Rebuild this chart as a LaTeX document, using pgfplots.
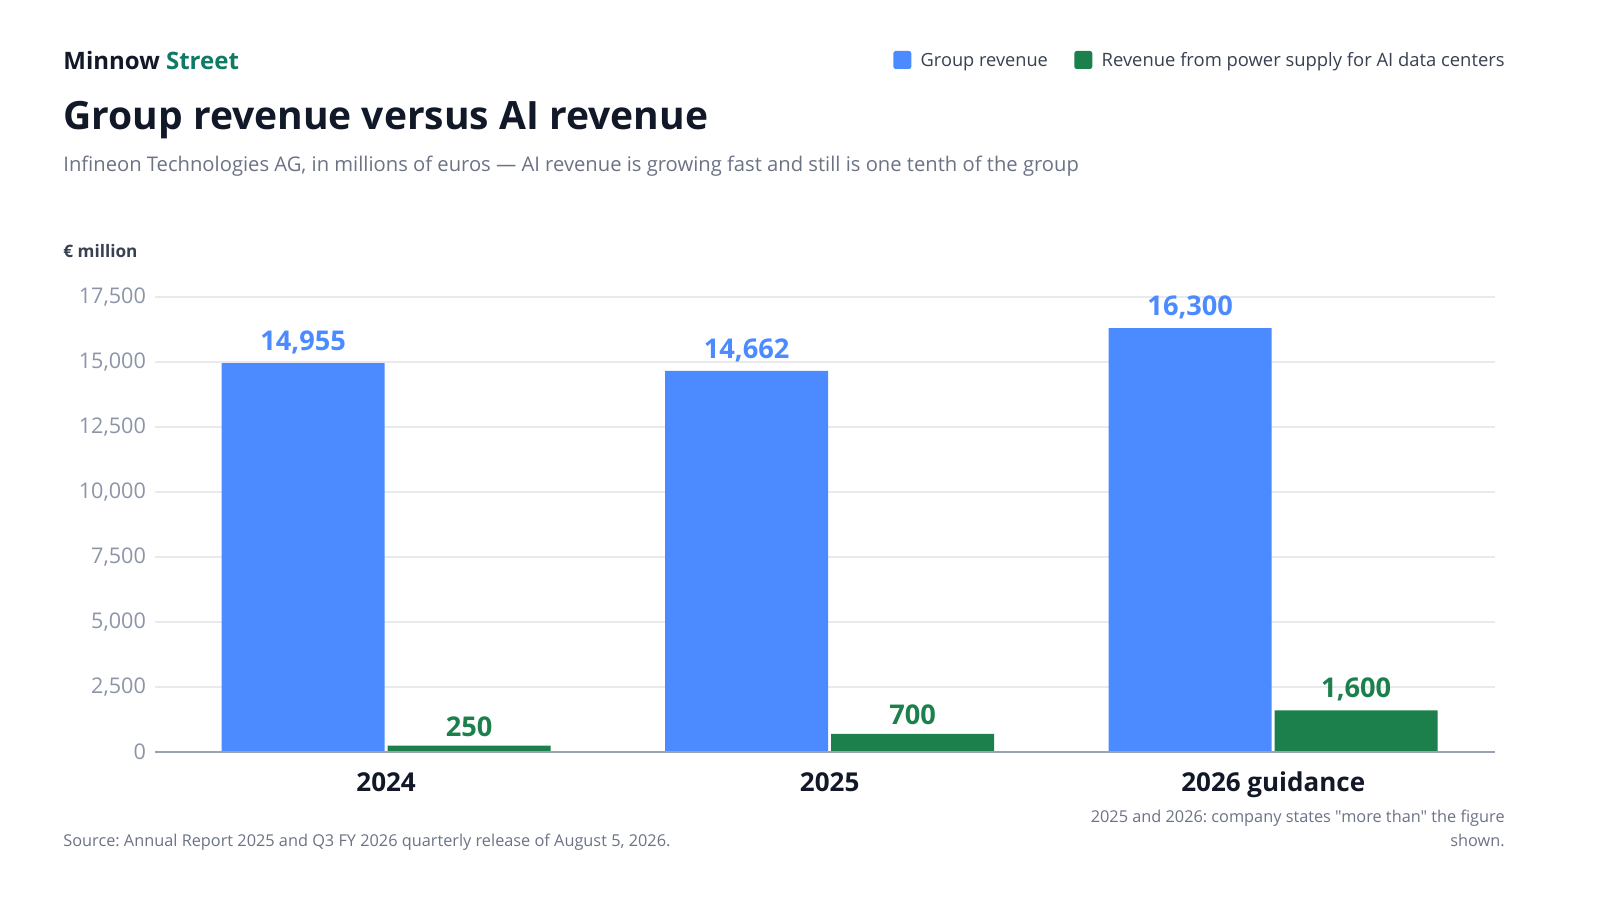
\documentclass[border=0pt]{standalone}
\usepackage{fontspec}
\setmainfont{Open Sans}
\newfontfamily\plainopen{Open Sans}
\usepackage{pgfplots}
\pgfplotsset{compat=1.18}
\definecolor{blueb}{HTML}{4B8BFF}
\definecolor{greenb}{HTML}{1B804C}
\definecolor{teal}{HTML}{0F7A66}
\definecolor{darkt}{HTML}{111827}
\definecolor{subt}{HTML}{6B7385}
\definecolor{tickc}{HTML}{8C95A8}
\definecolor{gridc}{HTML}{E8EAEE}
\definecolor{axisc}{HTML}{9AA2B2}
\definecolor{legt}{HTML}{374151}
\pgfplotstableread{
x group ai
0 14955 250
1 14662 700
2 16300 1600
}\revtable
\frenchspacing
\begin{document}
\begin{tikzpicture}[x=1pt,y=1pt]
\fill[white] (0,0) rectangle (800,450);
\node[anchor=base west, inner sep=0, font=\fontsize{12}{14}\selectfont\bfseries, text=darkt] at (31.5,415) {Minnow \textcolor{teal}{Street}};
\node[anchor=base west, inner sep=0, font=\fontsize{19.5}{24}\selectfont\bfseries, text=darkt] at (31.5,385) {Group revenue versus AI revenue};
\node[anchor=base west, inner sep=0, font=\fontsize{10.1}{12}\selectfont, text=subt] at (31.5,364) {Infineon Technologies AG, in millions of euros — AI revenue is growing fast and still is one tenth of the group};
% legend
\node[anchor=base east, inner sep=0, font=\fontsize{9.2}{11}\selectfont, text=legt] (l2) at (752.5,416.5) {Revenue from power supply for AI data centers};
\fill[greenb, rounded corners=1.2pt] ([xshift=-13.5pt]l2.west |- 0,415.5) rectangle ++(9,9);
\node[anchor=base east, inner sep=0, font=\fontsize{9.1}{11}\selectfont, text=legt] (l1) at ([xshift=-26.5pt]l2.west |- 0,416.5) {Group revenue};
\fill[blueb, rounded corners=1.2pt] ([xshift=-13.5pt]l1.west |- 0,415.5) rectangle ++(9,9);
\node[anchor=base west, inner sep=0, font=\fontsize{8.6}{10}\selectfont\bfseries, text=legt] at (31.5,321) {€ million};
% footer
\node[anchor=base west, inner sep=0, font=\fontsize{8.15}{10}\selectfont, text=subt] at (31.5,27) {Source: Annual Report 2025 and Q3 FY 2026 quarterly release of August 5, 2026.};
\node[anchor=base east, inner sep=0, font=\plainopen\fontsize{8.15}{10}\selectfont, text=subt] at (752.5,39) {2025 and 2026: company states "more than" the figure};
\node[anchor=base east, inner sep=0, font=\fontsize{8.15}{10}\selectfont, text=subt] at (752.5,27) {shown.};
\begin{axis}[
  at={(77.5pt,74pt)}, anchor=south west,
  width=670pt, height=227.5pt, scale only axis,
  xmin=-0.521, xmax=2.5, ymin=0, ymax=17500,
  ytick={0,2500,...,17500},
  scaled y ticks=false,
  xtick={0,1,2}, xticklabels={2024,2025,2026 guidance},
  axis line style={draw=none},
  major tick length=0pt,
  ymajorgrids, grid style={gridc, line width=0.6pt},
  /pgf/number format/assume math mode=true,
  /pgf/number format/1000 sep={,},
  yticklabel style={font=\fontsize{10.8}{12}\selectfont, text=tickc, xshift=-1pt},
  xticklabel style={font=\fontsize{13}{15}\selectfont\bfseries, text=darkt, anchor=base, yshift=-19.5pt},
  clip=false,
]
\addplot[ybar, bar width=81.5pt, bar shift=-41.5pt, fill=blueb, draw=none,
  nodes near coords, nodes near coords style={font=\fontsize{13.6}{15}\selectfont\bfseries, text=blueb, anchor=south, yshift=1pt, xshift=-41.5pt}]
  table[x=x, y=group] {\revtable};
\addplot[ybar, bar width=81.5pt, bar shift=41.5pt, fill=greenb, draw=none,
  nodes near coords, nodes near coords style={font=\fontsize{13.6}{15}\selectfont\bfseries, text=greenb, anchor=south, yshift=1pt, xshift=41.5pt}]
  table[x=x, y=ai] {\revtable};
\draw[axisc, line width=1pt] (axis cs:-0.521,0) -- (axis cs:2.5,0);
\end{axis}
\pgfresetboundingbox
\path[use as bounding box] (0,0) rectangle (800,450);
\end{tikzpicture}
\end{document}
